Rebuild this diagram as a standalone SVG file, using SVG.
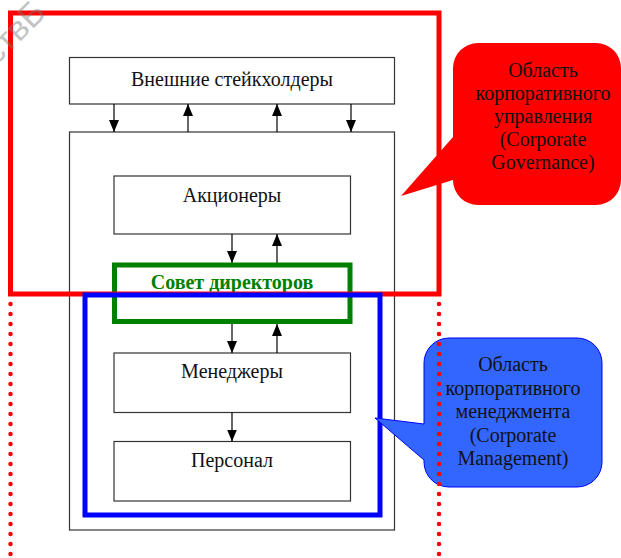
<svg xmlns="http://www.w3.org/2000/svg" width="621" height="558" viewBox="0 0 621 558">
<defs>
<marker id="arr" markerUnits="userSpaceOnUse" markerWidth="12" markerHeight="10" viewBox="0 0 12 10" refX="12" refY="5" orient="auto">
<path d="M0,0 L12,5 L0,10 Z" fill="#000"/>
</marker>
</defs>
<style>
.box{fill:#fff;stroke:#333;stroke-width:1.2}
.t{font-family:"Liberation Serif","Times New Roman",serif;font-size:20px;fill:#111;text-anchor:middle}
.c{fill:none;stroke:#000;stroke-width:1.2;marker-end:url(#arr)}
.dot{fill:none;stroke:#ff0000;stroke-width:4.5;stroke-linecap:round;stroke-dasharray:0 10}
</style>
<rect width="621" height="558" fill="#fff"/>

<g id="outer"><rect class="box" x="69.5" y="132" width="325" height="398"/></g>
<g id="stakeholders"><rect class="box" x="69.5" y="57.5" width="325" height="46.5"/><text class="t" x="232" y="86">Внешние стейкхолдеры</text></g>
<g id="shareholders"><rect class="box" x="114" y="176" width="236.5" height="58"/><text class="t" x="232" y="202">Акционеры</text></g>
<g id="managers"><rect class="box" x="114" y="353" width="236.5" height="59.5"/><text class="t" x="232" y="378">Менеджеры</text></g>
<g id="personnel"><rect class="box" x="114" y="441.5" width="236.5" height="59.5"/><text class="t" x="232" y="467">Персонал</text></g>

<g id="connectors">
<line class="c" x1="114" y1="104" x2="114" y2="132"/>
<line class="c" x1="188" y1="132" x2="188" y2="104"/>
<line class="c" x1="277" y1="132" x2="277" y2="104"/>
<line class="c" x1="351" y1="104" x2="351" y2="132"/>
<line class="c" x1="232" y1="234" x2="232" y2="263"/>
<line class="c" x1="277" y1="263" x2="277" y2="234"/>
<line class="c" x1="232" y1="324" x2="232" y2="353"/>
<line class="c" x1="277" y1="353" x2="277" y2="324"/>
<line class="c" x1="232" y1="412.5" x2="232" y2="441.5"/>
</g>

<g id="board"><rect x="114.5" y="265" width="235.5" height="56.5" fill="none" stroke="#008000" stroke-width="5"/><text x="232" y="289" font-family="Liberation Serif, Times New Roman, serif" font-size="20" font-weight="bold" fill="#008000" text-anchor="middle">Совет директоров</text></g>

<g id="governance-area"><rect x="10.5" y="13" width="428.5" height="281" fill="none" stroke="#ff0000" stroke-width="5"/></g>
<g id="management-area"><rect x="85" y="295" width="295" height="220" fill="none" stroke="#0000ff" stroke-width="5"/></g>

<text x="-4" y="66" transform="rotate(-45 -4 66)" font-family="Liberation Sans, Arial, sans-serif" font-size="34" fill="#777" fill-opacity="0.45">ствБ</text>

<g id="callout-governance">
<path d="M478,43 H596 A25,25 0 0 1 621,68 V180 A25,25 0 0 1 596,205 H478 A25,25 0 0 1 453,180 L401,196 L453,137 V68 A25,25 0 0 1 478,43 Z" fill="#ff0000"/>
<text class="t" x="543" y="77">Область</text>
<text class="t" x="543" y="100">корпоративного</text>
<text class="t" x="543" y="123">управления</text>
<text class="t" x="543" y="146">(Corporate</text>
<text class="t" x="543" y="169">Governance)</text>
</g>
<g id="callout-management">
<path d="M449,338 H577 A25,25 0 0 1 602,363 V462 A25,25 0 0 1 577,487 H449 A25,25 0 0 1 424,462 V460 L375,418 L424,424 V363 A25,25 0 0 1 449,338 Z" fill="#3366ff" stroke="#0000ff" stroke-width="1"/>
<text class="t" x="513" y="371">Область</text>
<text class="t" x="513" y="395">корпоративного</text>
<text class="t" x="513" y="418">менеджмента</text>
<text class="t" x="513" y="442">(Corporate</text>
<text class="t" x="513" y="465">Management)</text>
</g>
<g id="dotted">
<line class="dot" x1="10.5" y1="304" x2="10.5" y2="560"/>
<line class="dot" x1="439" y1="304" x2="439" y2="560"/>
</g>
</svg>
